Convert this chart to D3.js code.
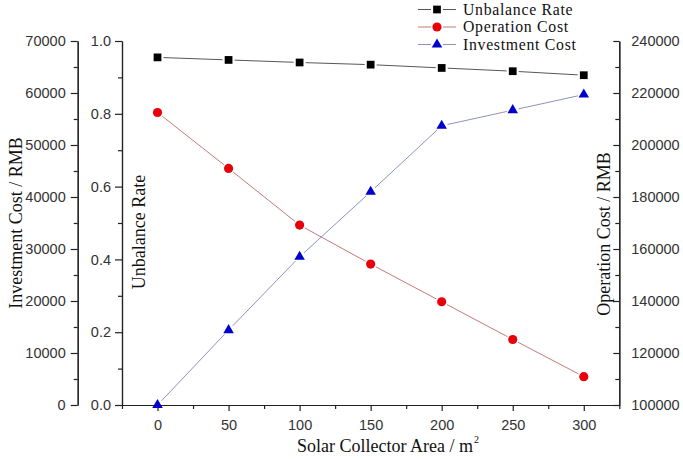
<!DOCTYPE html>
<html>
<head>
<meta charset="utf-8">
<script src="https://cdn.jsdelivr.net/npm/d3@7/dist/d3.min.js"></script>
<style>
  html, body { margin: 0; padding: 0; background: #fff; }
  svg { display: block; }
  .tick text { font-family: "Liberation Sans", Arial, sans-serif; font-size: 14.5px; fill: #333; }
  .title { font-family: "Liberation Serif", "Times New Roman", serif; font-size: 18px; fill: #111; }
  .legend-text { font-family: "Liberation Serif", "Times New Roman", serif; font-size: 15.8px; letter-spacing: 0.7px; fill: #111; }
</style>
</head>
<body>
<svg id="chart" width="683" height="459"></svg>
<script>
// Solar collector area (m²)
const areas = [0, 50, 100, 150, 200, 250, 300];
// Unbalance rate (fraction)
const unbalanceRate = [0.955, 0.948, 0.941, 0.935, 0.926, 0.917, 0.906];
// Operation cost (RMB)
const operationCost = [212500, 191000, 169200, 154200, 139700, 125200, 110900];
// Investment cost (RMB)
const investmentCost = [0, 14400, 28500, 41000, 53700, 56700, 59700];

const xTicks = [0, 50, 100, 150, 200, 250, 300];
const investTicks = [0, 10000, 20000, 30000, 40000, 50000, 60000, 70000];
const rateTicks = [0.0, 0.2, 0.4, 0.6, 0.8, 1.0];
const opTicks = [100000, 120000, 140000, 160000, 180000, 200000, 220000, 240000];

const svg = d3.select("#chart");

const plotLeft = 122, plotRight = 619.3, plotTop = 41, plotBottom = 405;
const outerAxisX = 77.7;

const x = d3.scaleLinear().domain([-25, 325]).range([plotLeft, plotRight]);
const yInvest = d3.scaleLinear().domain([0, 70000]).range([plotBottom, plotTop]);
const yRate = d3.scaleLinear().domain([0, 1]).range([plotBottom, plotTop]);
const yOp = d3.scaleLinear().domain([100000, 240000]).range([plotBottom, plotTop]);

const axisColor = "#222";
const intFmt = d3.format("d");

function styleAxis(g) {
  g.selectAll("path.domain").attr("stroke", axisColor).attr("stroke-width", 1.2);
  g.selectAll(".tick line").attr("stroke", axisColor).attr("stroke-width", 1.2);
}

// Minor tick helper: unlabeled ticks halfway between majors
function minorAxis(axisFn, scale, values, size) {
  return axisFn(scale).tickValues(values).tickSize(size).tickSizeOuter(0).tickFormat("");
}

// Bottom axis
const xMinor = d3.range(-25, 326, 25).filter(v => v % 50 !== 0);
svg.append("g").attr("transform", `translate(0,${plotBottom})`)
  .call(minorAxis(d3.axisBottom, x, xMinor, 4)).call(styleAxis);
svg.append("g").attr("transform", `translate(0,${plotBottom})`)
  .call(d3.axisBottom(x).tickValues(xTicks).tickSize(6).tickSizeOuter(0).tickPadding(9).tickFormat(intFmt))
  .call(styleAxis);

// Outer left axis: investment cost
const investMinor = d3.range(5000, 70000, 10000);
svg.append("g").attr("transform", `translate(${outerAxisX},0)`)
  .call(minorAxis(d3.axisLeft, yInvest, investMinor, 4)).call(styleAxis);
svg.append("g").attr("transform", `translate(${outerAxisX},0)`)
  .call(d3.axisLeft(yInvest).tickValues(investTicks).tickSize(7).tickSizeOuter(0).tickPadding(5).tickFormat(intFmt))
  .call(styleAxis);

// Inner left axis: unbalance rate
const rateMinor = [0.1, 0.3, 0.5, 0.7, 0.9];
svg.append("g").attr("transform", `translate(${plotLeft},0)`)
  .call(minorAxis(d3.axisLeft, yRate, rateMinor, 4)).call(styleAxis);
svg.append("g").attr("transform", `translate(${plotLeft},0)`)
  .call(d3.axisLeft(yRate).tickValues(rateTicks).tickSize(7).tickSizeOuter(0).tickPadding(4)
    .tickFormat(d3.format(".1f")))
  .call(styleAxis);

// Right axis: operation cost (ticks point inward)
const opMinor = d3.range(110000, 240000, 20000);
svg.append("g").attr("transform", `translate(${plotRight},0)`)
  .call(d3.axisRight(yOp).tickValues(opMinor).tickSize(-4).tickSizeOuter(0).tickFormat(""))
  .call(styleAxis);
const opAxis = svg.append("g").attr("transform", `translate(${plotRight},0)`)
  .call(d3.axisRight(yOp).tickValues(opTicks).tickSize(-6).tickSizeOuter(0).tickFormat(intFmt))
  .call(styleAxis);
opAxis.selectAll(".tick text").attr("x", 12);

// Axis titles
const xTitle = svg.append("text").attr("class", "title")
  .attr("x", 297).attr("y", 452);
xTitle.append("tspan").text("Solar Collector Area / m");
xTitle.append("tspan").text("2").attr("font-size", "10px").attr("dy", -9).attr("dx", 1);

svg.append("text").attr("class", "title")
  .attr("transform", `translate(21.5,${(plotTop + plotBottom) / 2}) rotate(-90)`)
  .attr("text-anchor", "middle").text("Investment Cost / RMB");

svg.append("text").attr("class", "title")
  .attr("transform", `translate(145,232) rotate(-90)`)
  .attr("text-anchor", "middle").text("Unbalance Rate");

svg.append("text").attr("class", "title")
  .attr("transform", `translate(609.5,234) rotate(-90)`)
  .attr("text-anchor", "middle").text("Operation Cost / RMB");

// Series definitions
const series = [
  { name: "Unbalance Rate", values: unbalanceRate, y: yRate, color: "#000000", line: "#444", shape: d3.symbolSquare, size: 60 },
  { name: "Operation Cost", values: operationCost, y: yOp, color: "#e8000b", line: "#c06a6a", shape: d3.symbolCircle, size: 66 },
  { name: "Investment Cost", values: investmentCost, y: yInvest, color: "#0000cc", line: "#7f86b8", shape: d3.symbolTriangle, size: 48 }
];

const gap = 6;
series.forEach(s => {
  const pts = areas.map((a, i) => [x(a), s.y(s.values[i])]);
  // connecting segments, stopping short of each marker
  const segs = d3.pairs(pts).map(([p, q]) => {
    const dx = q[0] - p[0], dy = q[1] - p[1];
    const len = Math.hypot(dx, dy);
    const ux = dx / len, uy = dy / len;
    return [p[0] + ux * gap, p[1] + uy * gap, q[0] - ux * gap, q[1] - uy * gap];
  });
  svg.append("g").selectAll("line").data(segs).join("line")
    .attr("x1", d => d[0]).attr("y1", d => d[1])
    .attr("x2", d => d[2]).attr("y2", d => d[3])
    .attr("stroke", s.line).attr("stroke-width", 0.9);
  svg.append("g").selectAll("path").data(pts).join("path")
    .attr("transform", d => `translate(${d[0]},${d[1]})`)
    .attr("d", d3.symbol().type(s.shape).size(s.size))
    .attr("fill", s.color);
});

// Legend
const legend = svg.append("g");
series.forEach((s, i) => {
  const cy = 9.5 + i * 17.5;
  legend.append("line").attr("x1", 418).attr("x2", 431).attr("y1", cy).attr("y2", cy)
    .attr("stroke", s.line).attr("stroke-width", 0.9);
  legend.append("line").attr("x1", 443).attr("x2", 456).attr("y1", cy).attr("y2", cy)
    .attr("stroke", s.line).attr("stroke-width", 0.9);
  legend.append("path").attr("transform", `translate(437,${cy})`)
    .attr("d", d3.symbol().type(s.shape).size(s.size)).attr("fill", s.color);
  legend.append("text").attr("class", "legend-text").attr("x", 463).attr("y", cy + 5.2).text(s.name);
});
</script>
</body>
</html>
